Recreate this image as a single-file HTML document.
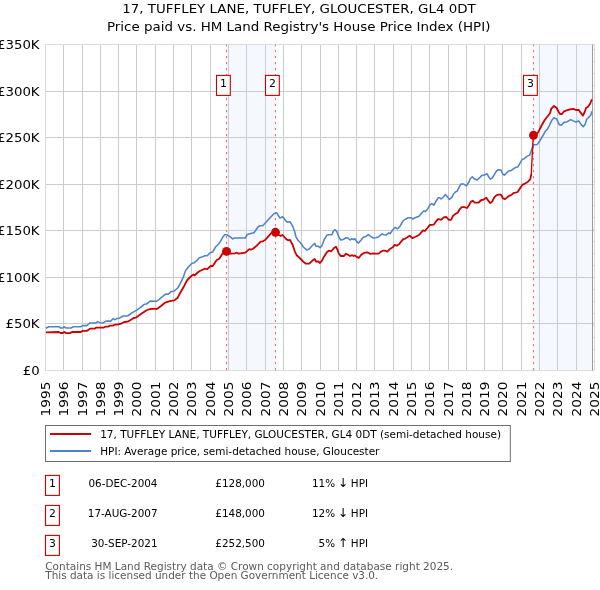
<!DOCTYPE html>
<html><head><meta charset="utf-8"><title>17, TUFFLEY LANE, TUFFLEY, GLOUCESTER, GL4 0DT</title>
<style>
html,body{margin:0;padding:0;background:#fff;overflow:hidden;}
svg{display:block;font-family:'DejaVu Sans','Liberation Sans',sans-serif;will-change:transform;transform:translateZ(0);}
text{fill:#000;}
</style></head><body>
<svg width="600" height="590" viewBox="0 0 600 590">
<rect width="600" height="590" fill="#fff"/>
<rect x="226.10" y="44.6" width="49.00" height="325.80" fill="#f5f8fe"/>
<rect x="533.10" y="44.6" width="59.40" height="325.80" fill="#f5f8fe"/>
<path d="M63.5 44V371M82.5 44V371M100.5 44V371M118.5 44V371M136.5 44V371M155.5 44V371M173.5 44V371M191.5 44V371M210.5 44V371M228.5 44V371M246.5 44V371M265.5 44V371M283.5 44V371M301.5 44V371M320.5 44V371M338.5 44V371M356.5 44V371M374.5 44V371M393.5 44V371M411.5 44V371M429.5 44V371M448.5 44V371M466.5 44V371M484.5 44V371M502.5 44V371M521.5 44V371M539.5 44V371M557.5 44V371M576.5 44V371M45 323.5H595M45 277.5H595M45 230.5H595M45 184.5H595M45 137.5H595M45 91.5H595" stroke="#cccccc" stroke-width="1" fill="none"/>
<path d="M45.5 44V371M594.5 44V371M45 370.5H595M45 44.5H595" stroke="#dcdcdc" stroke-width="1" fill="none"/>
<path d="M592.5 49.4H594.5M592.5 61.4H594.5M592.5 73.4H594.5M592.5 85.4H594.5M592.5 97.4H594.5M592.5 109.4H594.5M592.5 121.4H594.5M592.5 133.4H594.5M592.5 145.4H594.5M592.5 157.4H594.5M592.5 169.4H594.5M592.5 181.4H594.5M592.5 193.4H594.5M592.5 205.4H594.5M592.5 217.4H594.5M592.5 229.4H594.5M592.5 241.4H594.5M592.5 253.4H594.5M592.5 265.4H594.5M592.5 277.4H594.5M592.5 289.4H594.5M592.5 301.4H594.5M592.5 313.4H594.5M592.5 325.4H594.5M592.5 337.4H594.5M592.5 349.4H594.5M592.5 361.4H594.5" stroke="#cfcfcf" stroke-width="0.8" fill="none"/>
<path d="M592.5 44.6V370.4" stroke="#999999" stroke-width="1" fill="none"/>
<path d="M226.5 44.6V370.4" stroke="#f46a72" stroke-width="1.05" stroke-dasharray="2.2 3.8" stroke-dashoffset="0.55" fill="none"/>
<path d="M275.5 44.6V370.4" stroke="#f46a72" stroke-width="1.05" stroke-dasharray="2.2 3.8" stroke-dashoffset="0.55" fill="none"/>
<path d="M533.5 44.6V370.4" stroke="#f46a72" stroke-width="1.05" stroke-dasharray="2.2 3.8" stroke-dashoffset="0.55" fill="none"/>
<path d="M45.9 328.2L48.7 326.7L58.7 326.7L60.5 328.0L62.7 328.0L64.0 326.7L66.0 328.0L71.3 328.0L73.3 326.7L80.7 326.7L82.7 325.6L86.7 325.6L90.0 322.9L96.0 322.9L97.6 321.6L100.7 322.9L103.3 322.9L106.0 321.1L110.7 321.1L113.0 318.7L114.7 319.7L117.0 318.6L119.0 318.3L123.0 316.0L127.7 316.0L132.3 312.7L136.3 310.3L140.3 307.7L144.3 304.3L146.3 304.0L150.3 301.1L156.3 301.3L159.0 299.6L162.3 296.7L165.7 294.0L168.3 294.3L171.0 291.6L173.7 291.3L177.7 288.0L180.3 283.3L183.6 276.6L184.8 272.6L186.0 270.0L189.3 266.0L192.0 263.3L194.0 262.9L196.7 260.7L199.3 257.7L202.0 257.1L204.7 255.7L207.3 255.7L210.0 252.7L212.7 252.0L215.3 247.3L219.3 243.3L222.7 237.3L224.7 234.7L226.7 234.7L230.0 236.7L232.7 238.9L234.7 238.0L245.3 238.0L247.3 234.4L250.7 233.6L254.0 232.7L258.0 227.0L260.0 225.7L262.7 225.7L266.0 222.3L270.0 217.7L274.0 213.7L276.7 212.7L278.0 215.0L280.0 218.1L282.7 216.7L285.3 220.3L287.3 222.1L290.0 221.7L292.7 226.3L294.7 231.7L296.0 237.0L298.0 240.3L300.7 243.0L303.3 247.0L306.7 249.9L309.3 249.0L312.7 245.0L314.7 243.4L316.0 246.3L318.0 246.1L320.0 247.7L322.0 245.5L324.0 240.0L326.7 235.3L328.7 234.7L332.0 234.7L333.3 231.3L334.9 229.7L336.7 231.3L338.7 236.7L340.7 240.0L343.3 239.6L346.0 237.7L348.0 238.0L350.0 240.0L352.0 238.7L353.6 239.6L354.9 238.7L356.7 241.7L358.4 243.1L360.7 240.4L363.3 237.3L366.0 236.4L368.3 234.7L370.7 236.4L373.3 238.0L376.0 237.7L378.7 236.7L382.0 234.0L384.0 234.7L386.0 235.1L388.7 232.9L390.0 233.7L392.7 230.0L394.7 227.6L397.7 228.7L400.3 225.7L403.0 221.0L405.7 219.0L408.3 217.7L411.0 217.7L413.0 219.0L415.0 217.7L417.0 217.0L419.0 216.3L421.7 213.0L423.7 211.0L425.4 211.4L427.7 209.0L429.7 205.0L431.7 203.7L433.9 205.0L436.3 200.7L438.3 197.7L439.7 197.7L441.0 199.0L443.0 197.3L445.7 194.6L447.7 197.3L449.4 199.4L451.7 197.7L453.7 193.7L455.7 191.7L457.0 191.3L459.0 187.3L461.0 184.0L463.7 184.0L466.3 186.0L469.0 182.0L470.3 178.7L472.3 176.7L474.3 178.7L477.0 180.0L479.7 177.7L481.7 175.6L484.3 175.1L487.0 173.7L489.0 177.3L490.3 179.1L492.3 178.0L494.3 174.7L496.3 171.3L498.3 169.7L501.0 170.0L502.7 174.0L504.3 175.1L506.3 173.3L509.0 170.7L511.0 170.7L513.7 168.7L515.7 167.3L517.7 167.1L520.3 162.7L522.3 159.3L524.3 158.7L527.0 156.4L529.7 155.1L531.5 150.0L533.3 144.7L537.3 144.4L540.0 140.7L542.7 136.0L545.3 131.3L547.3 129.3L549.3 125.7L552.0 120.0L554.0 117.7L556.7 119.1L559.3 124.7L561.3 125.3L564.0 122.4L567.3 121.7L570.7 119.6L573.3 120.9L576.0 122.0L578.7 120.9L581.3 124.9L583.3 126.7L585.3 124.0L586.7 119.3L588.7 117.3L590.7 115.3L592.0 111.3" stroke="#4f83c9" stroke-width="1.55" fill="none" stroke-linejoin="round"/>
<path d="M45.9 332.4L58.7 332.0L60.5 333.0L62.7 333.0L64.3 332.0L66.0 333.1L70.0 333.1L72.0 332.0L80.7 332.0L82.7 330.9L86.7 330.9L90.0 328.7L94.7 328.7L96.0 327.7L103.3 327.7L105.3 326.7L108.0 326.7L110.0 325.6L112.7 325.6L114.7 324.7L117.3 324.7L121.0 323.7L124.3 322.0L127.7 321.7L133.7 318.0L135.7 317.7L141.7 313.6L147.0 310.0L151.0 308.9L157.0 308.9L161.0 306.0L165.0 302.7L168.3 301.7L171.0 300.9L174.3 300.4L177.7 297.7L180.3 292.7L184.3 285.7L187.3 280.0L191.3 276.0L193.3 274.7L194.7 275.3L199.3 271.3L202.0 270.0L204.7 268.7L207.3 269.1L210.7 266.0L212.7 266.0L216.7 260.0L219.3 258.7L222.7 253.3L226.0 251.6L230.7 253.6L234.7 253.3L236.7 252.7L238.7 253.6L245.3 252.7L249.3 249.1L250.7 249.6L252.7 249.0L256.7 245.7L260.7 241.7L262.7 241.3L264.7 240.3L267.3 237.7L271.3 233.0L275.2 231.7L278.7 235.0L280.7 235.9L282.7 235.0L286.0 239.0L288.0 240.3L290.0 239.9L292.7 245.0L294.7 251.0L296.7 255.4L298.0 256.3L300.7 259.0L303.3 261.7L306.0 263.7L309.3 263.7L312.7 260.3L314.7 259.0L316.0 261.7L318.0 261.3L320.0 263.0L322.0 260.7L324.0 256.7L326.7 252.4L328.7 250.7L331.3 251.3L334.0 248.0L336.0 246.7L337.3 249.3L338.7 253.3L340.7 256.0L344.0 256.0L346.0 253.7L348.0 254.7L350.0 256.0L352.0 255.1L353.6 256.0L354.9 255.3L356.7 256.9L358.7 258.0L361.3 254.7L364.0 252.9L367.3 252.4L370.7 254.0L373.3 253.3L376.0 253.7L378.7 253.7L381.3 251.3L383.3 250.7L385.3 250.7L387.3 251.6L390.0 248.9L392.7 247.3L394.7 244.9L396.7 245.7L399.0 244.3L403.0 239.4L405.7 238.3L409.7 235.7L412.3 238.1L415.0 237.0L419.0 235.0L423.0 230.3L425.0 231.0L427.7 227.7L429.7 225.0L433.7 224.7L436.3 221.0L438.3 219.0L441.0 219.9L443.7 217.3L446.3 217.0L449.0 219.9L451.0 219.9L453.0 215.9L455.0 214.1L457.7 212.7L459.7 209.3L461.7 207.1L464.3 207.1L467.0 208.0L469.0 205.3L470.7 202.0L472.6 200.7L474.7 202.7L478.3 202.7L481.4 200.0L483.7 199.6L486.3 197.7L488.3 200.7L490.3 203.1L492.3 201.3L494.3 197.3L496.3 195.3L498.3 194.7L501.0 194.7L503.0 198.3L505.0 199.1L507.7 196.9L509.7 195.6L511.7 194.7L513.7 192.9L515.7 192.7L517.7 192.0L519.7 188.7L522.3 184.9L525.0 183.6L527.7 182.0L530.3 179.1L531.3 174.0" stroke="#cc0000" stroke-width="1.8" fill="none" stroke-linejoin="round"/>
<path d="M531.3 174.0L532.1 158.0L533.3 135.3" stroke="#cc0000" stroke-width="1.35" fill="none" stroke-linejoin="round"/>
<path d="M533.3 135.3L538.0 132.7L541.3 126.0L544.7 120.0L547.3 116.7L550.0 113.3L551.3 108.7L554.0 106.0L556.7 108.0L558.7 112.0L560.0 114.0L562.0 114.0L564.0 111.3L566.7 110.3L570.0 109.3L573.3 108.9L576.0 110.0L578.7 110.0L580.7 112.7L582.9 115.6L584.7 112.0L586.0 108.0L588.0 106.7L590.0 104.0L591.9 99.4" stroke="#cc0000" stroke-width="1.8" fill="none" stroke-linejoin="round"/>
<ellipse cx="226.5" cy="251.4" rx="4.45" ry="4.45" fill="#cc0000"/>
<ellipse cx="275.5" cy="232.3" rx="4.45" ry="4.45" fill="#cc0000"/>
<ellipse cx="533.5" cy="135.3" rx="4.45" ry="4.45" fill="#cc0000"/>
<rect x="216.50" y="75.4" width="13.8" height="20" fill="#fff" stroke="#cc0000" stroke-width="1.1"/>
<text x="223.45" y="87.0" font-size="10.9" text-anchor="middle">1</text>
<rect x="265.50" y="75.4" width="13.8" height="20" fill="#fff" stroke="#cc0000" stroke-width="1.1"/>
<text x="272.45" y="87.0" font-size="10.9" text-anchor="middle">2</text>
<rect x="523.50" y="75.4" width="13.8" height="20" fill="#fff" stroke="#cc0000" stroke-width="1.1"/>
<text x="530.45" y="87.0" font-size="10.9" text-anchor="middle">3</text>
<text transform="translate(39.6 374.85) scale(1.11 1)" font-size="12.0" text-anchor="end">£0</text>
<text transform="translate(39.6 327.85) scale(1.11 1)" font-size="12.0" text-anchor="end">£50K</text>
<text transform="translate(39.6 281.85) scale(1.11 1)" font-size="12.0" text-anchor="end">£100K</text>
<text transform="translate(39.6 234.85) scale(1.11 1)" font-size="12.0" text-anchor="end">£150K</text>
<text transform="translate(39.6 188.85) scale(1.11 1)" font-size="12.0" text-anchor="end">£200K</text>
<text transform="translate(39.6 141.85) scale(1.11 1)" font-size="12.0" text-anchor="end">£250K</text>
<text transform="translate(39.6 95.85) scale(1.11 1)" font-size="12.0" text-anchor="end">£300K</text>
<text transform="translate(39.6 48.85) scale(1.11 1)" font-size="12.0" text-anchor="end">£350K</text>
<text transform="translate(50.00 381.5) rotate(-90) scale(1.09 1)" font-size="12.6" text-anchor="end">1995</text>
<text transform="translate(68.00 381.5) rotate(-90) scale(1.09 1)" font-size="12.6" text-anchor="end">1996</text>
<text transform="translate(87.00 381.5) rotate(-90) scale(1.09 1)" font-size="12.6" text-anchor="end">1997</text>
<text transform="translate(105.00 381.5) rotate(-90) scale(1.09 1)" font-size="12.6" text-anchor="end">1998</text>
<text transform="translate(123.00 381.5) rotate(-90) scale(1.09 1)" font-size="12.6" text-anchor="end">1999</text>
<text transform="translate(141.00 381.5) rotate(-90) scale(1.09 1)" font-size="12.6" text-anchor="end">2000</text>
<text transform="translate(160.00 381.5) rotate(-90) scale(1.09 1)" font-size="12.6" text-anchor="end">2001</text>
<text transform="translate(178.00 381.5) rotate(-90) scale(1.09 1)" font-size="12.6" text-anchor="end">2002</text>
<text transform="translate(196.00 381.5) rotate(-90) scale(1.09 1)" font-size="12.6" text-anchor="end">2003</text>
<text transform="translate(215.00 381.5) rotate(-90) scale(1.09 1)" font-size="12.6" text-anchor="end">2004</text>
<text transform="translate(233.00 381.5) rotate(-90) scale(1.09 1)" font-size="12.6" text-anchor="end">2005</text>
<text transform="translate(251.00 381.5) rotate(-90) scale(1.09 1)" font-size="12.6" text-anchor="end">2006</text>
<text transform="translate(270.00 381.5) rotate(-90) scale(1.09 1)" font-size="12.6" text-anchor="end">2007</text>
<text transform="translate(288.00 381.5) rotate(-90) scale(1.09 1)" font-size="12.6" text-anchor="end">2008</text>
<text transform="translate(306.00 381.5) rotate(-90) scale(1.09 1)" font-size="12.6" text-anchor="end">2009</text>
<text transform="translate(325.00 381.5) rotate(-90) scale(1.09 1)" font-size="12.6" text-anchor="end">2010</text>
<text transform="translate(343.00 381.5) rotate(-90) scale(1.09 1)" font-size="12.6" text-anchor="end">2011</text>
<text transform="translate(361.00 381.5) rotate(-90) scale(1.09 1)" font-size="12.6" text-anchor="end">2012</text>
<text transform="translate(379.00 381.5) rotate(-90) scale(1.09 1)" font-size="12.6" text-anchor="end">2013</text>
<text transform="translate(398.00 381.5) rotate(-90) scale(1.09 1)" font-size="12.6" text-anchor="end">2014</text>
<text transform="translate(416.00 381.5) rotate(-90) scale(1.09 1)" font-size="12.6" text-anchor="end">2015</text>
<text transform="translate(434.00 381.5) rotate(-90) scale(1.09 1)" font-size="12.6" text-anchor="end">2016</text>
<text transform="translate(453.00 381.5) rotate(-90) scale(1.09 1)" font-size="12.6" text-anchor="end">2017</text>
<text transform="translate(471.00 381.5) rotate(-90) scale(1.09 1)" font-size="12.6" text-anchor="end">2018</text>
<text transform="translate(489.00 381.5) rotate(-90) scale(1.09 1)" font-size="12.6" text-anchor="end">2019</text>
<text transform="translate(507.00 381.5) rotate(-90) scale(1.09 1)" font-size="12.6" text-anchor="end">2020</text>
<text transform="translate(526.00 381.5) rotate(-90) scale(1.09 1)" font-size="12.6" text-anchor="end">2021</text>
<text transform="translate(544.00 381.5) rotate(-90) scale(1.09 1)" font-size="12.6" text-anchor="end">2022</text>
<text transform="translate(562.00 381.5) rotate(-90) scale(1.09 1)" font-size="12.6" text-anchor="end">2023</text>
<text transform="translate(581.00 381.5) rotate(-90) scale(1.09 1)" font-size="12.6" text-anchor="end">2024</text>
<text transform="translate(599.00 381.5) rotate(-90) scale(1.09 1)" font-size="12.6" text-anchor="end">2025</text>
<text x="299" y="12.8" font-size="12.2" text-anchor="middle" textLength="353.6" lengthAdjust="spacingAndGlyphs">17, TUFFLEY LANE, TUFFLEY, GLOUCESTER, GL4 0DT</text>
<text x="298.7" y="31.1" font-size="12.2" text-anchor="middle" textLength="383.4" lengthAdjust="spacingAndGlyphs">Price paid vs. HM Land Registry's House Price Index (HPI)</text>
<rect x="45.5" y="425.5" width="464.8" height="36" fill="#fff" stroke="#6e6e6e" stroke-width="1"/>
<path d="M50 434H91.1" stroke="#cc0000" stroke-width="2"/>
<path d="M50 451H91.1" stroke="#4f83c9" stroke-width="1.9"/>
<text x="100.2" y="437.6" font-size="10.4" textLength="400.8" lengthAdjust="spacingAndGlyphs">17, TUFFLEY LANE, TUFFLEY, GLOUCESTER, GL4 0DT (semi-detached house)</text>
<text x="100.2" y="454.9" font-size="10.4" textLength="279.2" lengthAdjust="spacingAndGlyphs">HPI: Average price, semi-detached house, Gloucester</text>
<rect x="45.5" y="475.40" width="13.9" height="20" fill="#fff" stroke="#cc0000" stroke-width="1.1"/>
<text x="52.5" y="486.90" font-size="10.8" text-anchor="middle">1</text>
<text x="157.5" y="486.6" font-size="10.4" text-anchor="end">06-DEC-2004</text>
<text x="264.9" y="486.6" font-size="10.4" text-anchor="end">£128,000</text>
<text x="368" y="486.6" font-size="10.4" text-anchor="end">11% <tspan font-size="12.4" dx="-0.6">↓</tspan><tspan dx="-0.6"> HPI</tspan></text>
<rect x="45.5" y="505.40" width="13.9" height="20" fill="#fff" stroke="#cc0000" stroke-width="1.1"/>
<text x="52.5" y="516.90" font-size="10.8" text-anchor="middle">2</text>
<text x="157.5" y="516.6" font-size="10.4" text-anchor="end">17-AUG-2007</text>
<text x="264.9" y="516.6" font-size="10.4" text-anchor="end">£148,000</text>
<text x="368" y="516.6" font-size="10.4" text-anchor="end">12% <tspan font-size="12.4" dx="-0.6">↓</tspan><tspan dx="-0.6"> HPI</tspan></text>
<rect x="45.5" y="535.40" width="13.9" height="20" fill="#fff" stroke="#cc0000" stroke-width="1.1"/>
<text x="52.5" y="546.90" font-size="10.8" text-anchor="middle">3</text>
<text x="157.5" y="546.6" font-size="10.4" text-anchor="end">30-SEP-2021</text>
<text x="264.9" y="546.6" font-size="10.4" text-anchor="end">£252,500</text>
<text x="368" y="546.6" font-size="10.4" text-anchor="end">5% <tspan font-size="12.4" dx="-0.6">↑</tspan><tspan dx="-0.6"> HPI</tspan></text>
<text x="45.3" y="569.5" font-size="10.4" style="fill:#5a5a5a" textLength="407.8" lengthAdjust="spacingAndGlyphs">Contains HM Land Registry data © Crown copyright and database right 2025.</text>
<text x="45.3" y="579.4" font-size="10.4" style="fill:#5a5a5a" textLength="333" lengthAdjust="spacingAndGlyphs">This data is licensed under the Open Government Licence v3.0.</text>
</svg></body></html>
